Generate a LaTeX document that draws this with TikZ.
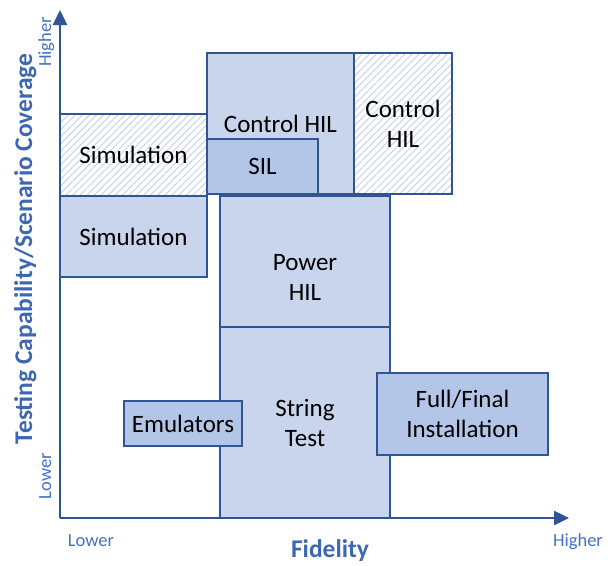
\documentclass[tikz,border=0pt]{standalone}
\usepackage{fontspec}
\setmainfont{Carlito}
\usepackage{xcolor}
\usetikzlibrary{arrows.meta,patterns.meta}

\definecolor{boxline}{HTML}{2F5597}
\definecolor{lightfill}{HTML}{C9D5EC}
\definecolor{darkfill}{HTML}{B4C6E7}
\definecolor{hatchblue}{HTML}{C3CFE3}
\definecolor{axistext}{HTML}{4472C4}
\definecolor{titleblue}{HTML}{3E67B1}

\begin{document}
\begin{tikzpicture}[x=1pt, y=-1pt,
    box/.style={draw=boxline, line width=2.5pt, inner sep=0pt, outer sep=0pt, align=center,
        font=\fontsize{25}{30}\selectfont},
    hatchbox/.style={box, pattern={Lines[angle=45, distance=5pt, line width=0.9pt]}, pattern color=hatchblue},
    axis/.style={draw=boxline, line width=2.5pt, -{Triangle[length=15pt, width=14pt]}},
    tick/.style={text=axistext, font=\fontsize{18.5}{22}\selectfont, inner sep=0pt},
    title/.style={text=titleblue, font=\fontsize{25.5}{30}\selectfont\bfseries, inner sep=0pt}]
    \useasboundingbox (0,0) rectangle (613,565);

    % Boxes
    \node[hatchbox, minimum width=147pt, minimum height=82pt] (simfuture) at (133.5,155) {Simulation};
    \node[box, fill=lightfill, minimum width=147pt, minimum height=81pt] (sim) at (133.5,236.5) {Simulation};
    \node[box, fill=lightfill, minimum width=147pt, minimum height=141pt] (ctrlhil) at (280.5,123.5) {Control HIL};
    \node[box, fill=darkfill, minimum width=111pt, minimum height=55pt] (sil) at (262.5,166.5) {SIL};
    \node[hatchbox, minimum width=98pt, minimum height=141pt] (ctrlfuture) at (403,123.5) {Control\\HIL};
    \node[box, fill=lightfill, minimum width=170pt, minimum height=131pt] (powerhil) at (305,261.5) {};
    \node[box, draw=none] (powerlabel) at (305,277) {Power\\HIL};
    \node[box, fill=lightfill, minimum width=170pt, minimum height=191pt] (string) at (305,422.5) {String\\Test};
    \node[box, fill=darkfill, minimum width=118pt, minimum height=45pt] (emu) at (183,423.5) {Emulators};
    \node[box, fill=darkfill, minimum width=171pt, minimum height=82pt] (full) at (462.5,414) {Full/Final\\Installation};

    % Axes
    \coordinate (origin) at (60,518);
    \coordinate (ytip) at (60,10);
    \coordinate (xtip) at (569,518);
    \draw[axis] (origin) -- (ytip);
    \draw[axis] (origin) -- (xtip);

    % Axis labels
    \node[tick, rotate=90, anchor=base] (yhigh) at (51,42) {Higher};
    \node[tick, rotate=90, anchor=base] (ylow) at (51,476) {Lower};
    \node[tick, anchor=base] (xlow) at (91,546) {Lower};
    \node[tick, anchor=base] (xhigh) at (578,546) {Higher};
    \node[title, rotate=90, anchor=base] (ytitle) at (32,249) {Testing Capability/Scenario Coverage};
    \node[title, anchor=base] (xtitle) at (330,557) {Fidelity};
\end{tikzpicture}
\end{document}
